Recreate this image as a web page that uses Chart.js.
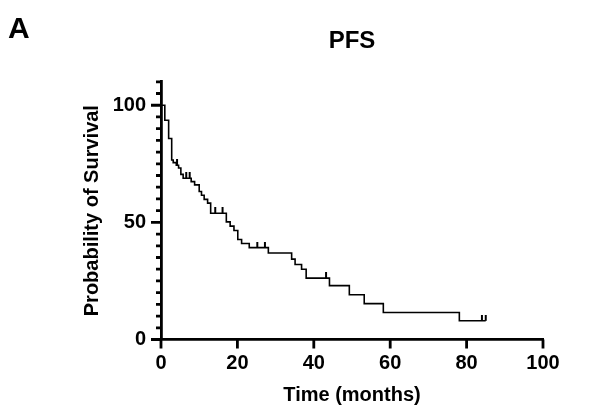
<!DOCTYPE html>
<html><head><meta charset="utf-8">
<script src="https://cdn.jsdelivr.net/npm/chart.js@4"></script>
<style>html,body{margin:0;padding:0;background:#fff;}#wrap{width:592px;height:417px;position:relative;}</style>
</head><body><div id="wrap"><canvas id="c" width="592" height="417"></canvas></div>
<script>
const panelLabel = 'A';
const chartTitle = 'PFS';
const xTitle = 'Time (months)';
const yTitle = 'Probability of Survival';

// Kaplan-Meier steps: survival (%) after each event time (months)
const kmTime = [0, 1.0, 2.0, 2.8, 3.2, 4.0, 4.6, 5.2, 5.8, 7.9, 8.8, 10.0, 10.6, 11.3, 12.2, 13.0, 17.1, 18.1, 19.1, 20.1, 21.1, 23.1, 28.1, 34.2, 35.1, 36.8, 38.0, 44.1, 49.3, 53.2, 58.2, 78.1, 85.0];
const kmSurv = [100, 93.6, 85.8, 76.6, 75.5, 74.4, 73.2, 70.5, 68.8, 67.4, 66.0, 63.2, 61.6, 59.8, 58.2, 53.9, 50.2, 48.4, 46.5, 42.7, 41.0, 39.2, 36.9, 34.3, 32.0, 30.0, 26.2, 23.0, 19.1, 15.3, 11.5, 8.0, 8.0];

// Censored observations
const censorTime = [4.2, 6.6, 7.5, 14.2, 16.1, 25.2, 27.2, 43.2, 84.0, 85.0];
const censorSurv = [74.4, 68.8, 68.8, 53.9, 53.9, 39.2, 39.2, 26.2, 8.0, 8.0];

const xTickStep = 20;
const yTickStep = 5;
const yLabelTicks = [0, 50, 100];

const FONT = '"Liberation Sans", Arial, sans-serif';

// censor mark glyph: vertical stroke rising from the point
const mark = document.createElement('canvas');
mark.width = 4; mark.height = 12;
(function(){const g = mark.getContext('2d'); g.fillStyle = '#000'; g.fillRect(1, 0, 2, 6);})();

const axisTicks = {
  id: 'axisTicks',
  afterDraw(chart) {
    const ctx = chart.ctx, a = chart.chartArea;
    const xs = chart.scales.x, ys = chart.scales.y;
    ctx.save();
    ctx.strokeStyle = '#000';
    ctx.lineWidth = 2.8;
    ctx.beginPath();
    ys.ticks.forEach(t => {
      const len = yLabelTicks.includes(t.value) ? 10 : 5;
      const py = ys.getPixelForValue(t.value);
      ctx.moveTo(a.left, py); ctx.lineTo(a.left - len, py);
    });
    xs.ticks.forEach(t => {
      const px = xs.getPixelForValue(t.value);
      ctx.moveTo(px, a.bottom); ctx.lineTo(px, a.bottom + 9);
    });
    ctx.stroke();
    ctx.fillStyle = '#000';
    ctx.font = 'bold 30px ' + FONT;
    ctx.textBaseline = 'alphabetic';
    ctx.textAlign = 'left';
    ctx.fillText(panelLabel, 8, 38);
    ctx.restore();
  }
};

new Chart(document.getElementById('c'), {
  type: 'line',
  data: {
    datasets: [{
      data: kmTime.map((t, i) => ({x: t, y: kmSurv[i]})),
      stepped: true,
      borderColor: '#000',
      borderWidth: 1.6,
      pointRadius: 0,
      fill: false
    }, {
      data: censorTime.map((t, i) => ({x: t, y: censorSurv[i]})),
      showLine: false,
      pointStyle: mark,
      pointRadius: 5,
      borderColor: '#000',
      backgroundColor: '#000'
    }]
  },
  options: {
    responsive: false,
    devicePixelRatio: 1,
    animation: false,
    layout: {padding: {left: 0, right: 49, top: 0, bottom: 0}},
    plugins: {
      legend: {display: false},
      tooltip: {enabled: false},
      title: {
        display: true, text: chartTitle, color: '#000', fullSize: false,
        font: {family: FONT, size: 24, weight: 'bold'},
        padding: {top: 27, bottom: 26}
      }
    },
    scales: {
      x: {
        type: 'linear', min: 0, max: 100,
        ticks: {stepSize: xTickStep, color: '#000', padding: 12, autoSkip: false, maxRotation: 0,
                font: {family: FONT, size: 20, weight: 'bold'}},
        grid: {display: false, drawTicks: false},
        border: {display: true, color: '#000', width: 2.8},
        title: {display: true, text: xTitle, color: '#000',
                font: {family: FONT, size: 20, weight: 'bold'}, padding: {top: 0, bottom: 10}},
        afterFit(s) { s.height = 77.5; }
      },
      y: {
        type: 'linear', min: 0, max: 110,
        ticks: {stepSize: yTickStep, color: '#000', padding: 15, autoSkip: false,
                callback: v => yLabelTicks.includes(v) ? String(v) : '',
                font: {family: FONT, size: 20, weight: 'bold'}},
        grid: {display: false, drawTicks: false},
        border: {display: true, color: '#000', width: 2.8},
        title: {display: true, text: yTitle, color: '#000',
                font: {family: FONT, size: 20, weight: 'bold'}, padding: {top: 80, bottom: 0}},
        afterFit(s) { s.width = 161; }
      }
    }
  },
  plugins: [axisTicks]
});
</script></body></html>
